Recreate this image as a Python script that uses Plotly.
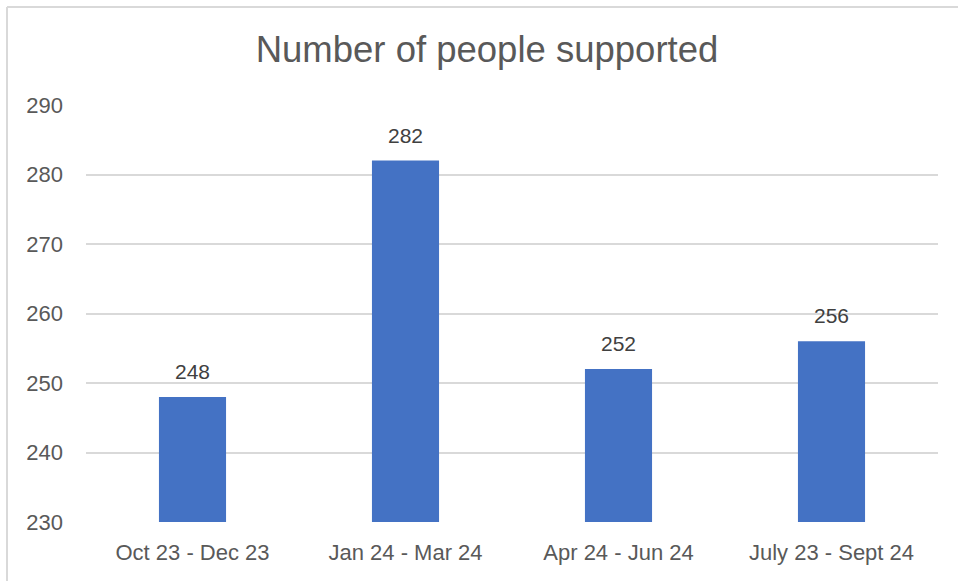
import plotly.graph_objects as go

categories = ["Oct 23 - Dec 23", "Jan 24 - Mar 24", "Apr 24 - Jun 24", "July 23 - Sept 24"]
values = [248, 282, 252, 256]
y_ticks = [230, 240, 250, 260, 270, 280, 290]

W, H = 958, 581
L, R, T, B = 86, 20, 105, 59
pw, ph = W - L - R, H - T - B

fig = go.Figure()
fig.add_trace(go.Bar(
    x=categories, y=values,
    marker=dict(color="#4472C4", line=dict(width=0)),
    hoverinfo="x+y",
))

for c, v in zip(categories, values):
    fig.add_annotation(
        x=c, y=v, text=str(v), showarrow=False,
        yanchor="bottom", yshift=12,
        font=dict(family="Liberation Sans, Arial, sans-serif", size=21, color="#404040"),
    )

def px_x(p):
    return (p - L) / pw

def px_y(p):
    return (H - B - p) / ph

border = dict(color="#D9D9D9", width=2)
fig.add_shape(type="line", xref="paper", yref="paper",
              x0=px_x(7), x1=px_x(W + 5), y0=px_y(7), y1=px_y(7), line=border, layer="below")
fig.add_shape(type="line", xref="paper", yref="paper",
              x0=px_x(7), x1=px_x(7), y0=px_y(7), y1=px_y(H + 5), line=border, layer="below")

fig.update_layout(
    width=W, height=H,
    margin=dict(l=L, r=R, t=T, b=B),
    paper_bgcolor="white", plot_bgcolor="white",
    bargap=0.685,
    showlegend=False,
    title=dict(
        text="Number of people supported",
        x=487 / W, xref="container", xanchor="center",
        y=1 - 49 / H, yref="container", yanchor="middle",
        font=dict(family="Liberation Sans, Arial, sans-serif", size=36.5, color="#595959"),
    ),
    xaxis=dict(
        showgrid=False, zeroline=False, showline=False,
        tickfont=dict(family="Liberation Sans, Arial, sans-serif", size=22, color="#595959"),
        ticklabelstandoff=15,
    ),
    yaxis=dict(
        range=[230, 290], tickvals=y_ticks,
        showgrid=True, gridcolor="#D9D9D9", gridwidth=2,
        zeroline=False, showline=False,
        tickfont=dict(family="Liberation Sans, Arial, sans-serif", size=22, color="#595959"),
        ticklabelstandoff=22,
    ),
)

fig.write_html(
    "out.html",
    config={"displayModeBar": False},
    post_script="document.body.style.margin='0';document.body.style.overflow='hidden';",
)
